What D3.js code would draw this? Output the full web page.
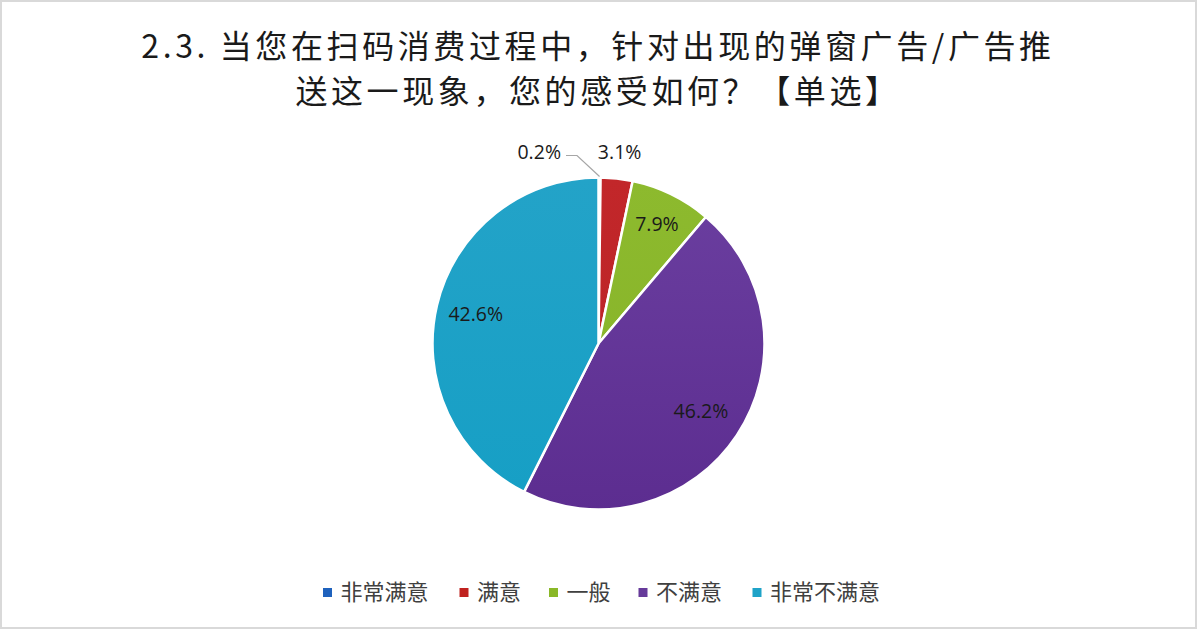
<!DOCTYPE html>
<html><head><meta charset="utf-8">
<script src="https://cdn.jsdelivr.net/npm/d3@7"></script>
<style>
html,body{margin:0;padding:0;background:#fff;}
svg{display:block;}
</style></head>
<body>
<script>
const titleLines = ["2.3. 当您在扫码消费过程中，针对出现的弹窗广告/广告推", "送这一现象，您的感受如何？【单选】"];
const categories = ["非常满意", "满意", "一般", "不满意", "非常不满意"];
const values = [0.2, 3.1, 7.9, 46.2, 42.6];
const labels = ["0.2%", "3.1%", "7.9%", "46.2%", "42.6%"];
const colorsTop = ["#2266c4", "#c2272a", "#8dba2e", "#6b3fa0", "#23a3c8"];
const colorsBottom = ["#1a5cb8", "#b82225", "#86b228", "#5c2d90", "#169fc5"];
const legendColors = ["#1f62bd", "#c0221f", "#8ab828", "#663a9a", "#1fa3c8"];

const W = 1197, H = 629;
const svg = d3.select("body").append("svg").attr("width", W).attr("height", H);

svg.append("rect").attr("x", 1).attr("y", 1).attr("width", W - 2).attr("height", H - 2)
  .attr("fill", "#fff").attr("stroke", "#d9d9d9").attr("stroke-width", 2);

// title
const title = svg.append("text").attr("text-anchor", "middle")
  .attr("font-family", "'Noto Sans CJK SC', sans-serif").attr("font-size", 32)
  .attr("fill", "#1a1a1a").attr("letter-spacing", 3.6);
titleLines.forEach((t, i) => {
  title.append("tspan").attr("x", 598).attr("y", 58 + i * 45).text(t);
});

const cx = 598.5, cy = 343.5, r = 166;
const g = svg.append("g").attr("transform", `translate(${cx},${cy})`);

const defs = svg.append("defs");
categories.forEach((c, i) => {
  const lg = defs.append("linearGradient").attr("id", "grad" + i)
    .attr("gradientUnits", "userSpaceOnUse")
    .attr("x1", 0).attr("y1", -r).attr("x2", 0).attr("y2", r);
  lg.append("stop").attr("offset", "0%").attr("stop-color", colorsTop[i]);
  lg.append("stop").attr("offset", "100%").attr("stop-color", colorsBottom[i]);
});

const pie = d3.pie().sort(null).value(d => d)(values);
const arc = d3.arc().innerRadius(0).outerRadius(r);

g.selectAll("path.slice").data(pie).join("path")
  .attr("class", "slice")
  .attr("d", arc)
  .attr("fill", (d, i) => `url(#grad${i})`)
  .attr("stroke", "#fff").attr("stroke-width", 2.5).attr("stroke-linejoin", "round");

// labels
const labelRadius = [1.0, 1.16, 0.80, 0.74, 0.76];
const lab = g.append("g").attr("font-family", "'Open Sans', 'Noto Sans', sans-serif")
  .attr("font-size", 19.5).attr("fill", "#1a1a1a");

pie.forEach((d, i) => {
  if (i === 0) {
    // small slice: outside with leader line
    const p0 = d3.arc().innerRadius(r + 1).outerRadius(r + 1).centroid(d);
    const p1 = [-21.5, -r - 22];
    const p2 = [-32.5, -r - 22];
    g.append("polyline").attr("points", [p0, p1, p2].map(p => p.join(",")).join(" "))
      .attr("fill", "none").attr("stroke", "#a6a6a6").attr("stroke-width", 1.2);
    lab.append("text").attr("x", p2[0] - 5).attr("y", p2[1] - 3).attr("dy", "0.35em")
      .attr("text-anchor", "end").text(labels[i]);
  } else {
    const rr = r * labelRadius[i];
    const c = d3.arc().innerRadius(rr).outerRadius(rr).centroid(d);
    lab.append("text").attr("x", c[0]).attr("y", c[1]).attr("dy", "0.35em")
      .attr("text-anchor", "middle").text(labels[i]);
  }
});

// legend
const legendX = [327.5, 464, 553.5, 643, 757];
const lgG = svg.append("g").attr("font-family", "'Noto Sans CJK SC', sans-serif")
  .attr("font-size", 22).attr("fill", "#404040");
categories.forEach((c, i) => {
  lgG.append("rect").attr("x", legendX[i] - 4.5).attr("y", 588).attr("width", 9).attr("height", 9)
    .attr("fill", legendColors[i]);
  lgG.append("text").attr("x", legendX[i] + 13).attr("y", 592.5).attr("dy", "0.35em").text(c);
});
</script>
</body></html>
